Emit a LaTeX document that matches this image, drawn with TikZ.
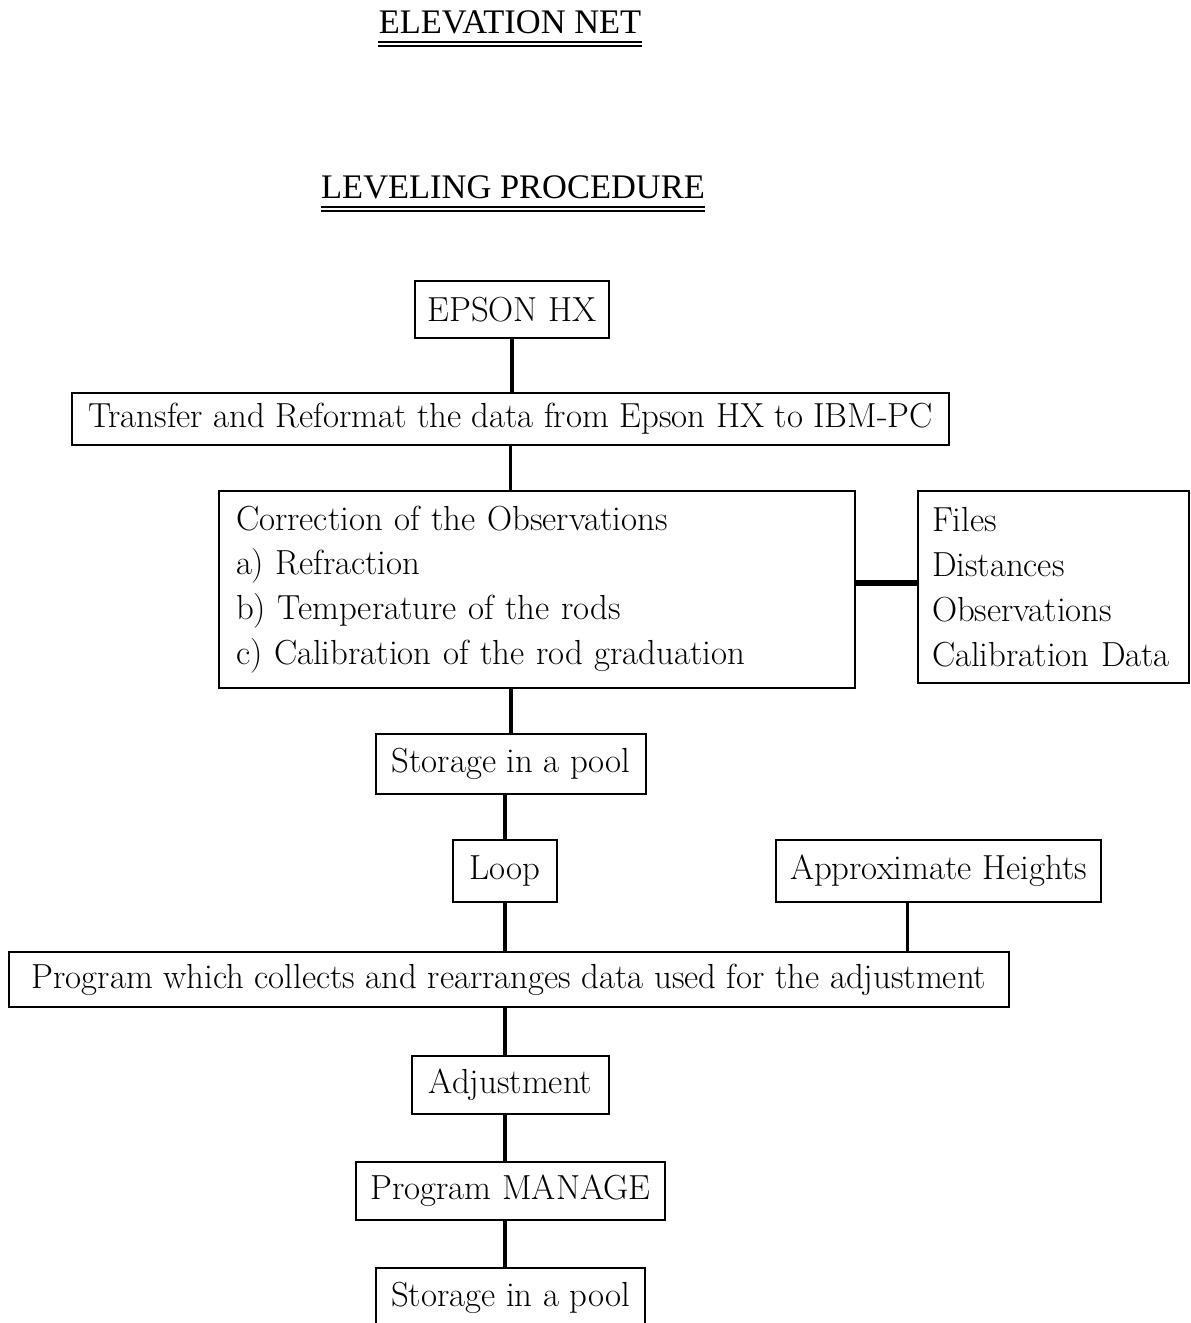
\documentclass[tikz,border=0pt]{standalone}
\usepackage{fontspec}
\newfontfamily\titlefont{Liberation Serif}
\usetikzlibrary{positioning}
\usetikzlibrary{calc}
\tikzset{>=latex}
\tikzstyle{procnode}=[black,draw=black,line width=1pt,shape=rectangle,fill=white,inner sep=0pt,font=\fontsize{19.8}{25.5}\selectfont]
\tikzstyle{listnode}=[procnode,align=left,inner ysep=0pt]
\tikzstyle{titlenode}=[black,anchor=base,inner sep=0pt,font=\titlefont\fontsize{19.6}{23}\selectfont]
\tikzstyle{link}=[line width=1.8pt,color=black]
\tikzstyle{heavylink}=[line width=2.3pt,color=black]
\tikzstyle{barlink}=[line width=3.4pt,color=black]

\begin{document}
\begin{tikzpicture}
	\useasboundingbox (0, 0) rectangle (23.8, -26.46);
	
	% Titles
	\node[titlenode] (elev) at (10.2, -0.66) {ELEVATION NET};
	\node[titlenode] (level) at (10.26, -3.96) {LEVELING PROCEDURE};
	\draw[line width=1.6pt] ($(elev.base west) + (0, -0.18)$) -- ($(elev.base east) + (0, -0.18)$);
	\draw[line width=0.7pt] ($(elev.base west) + (0, -0.26)$) -- ($(elev.base east) + (0, -0.26)$);
	\draw[line width=1.6pt] ($(level.base west) + (0, -0.18)$) -- ($(level.base east) + (0, -0.18)$);
	\draw[line width=0.7pt] ($(level.base west) + (0, -0.26)$) -- ($(level.base east) + (0, -0.26)$);
	
	% Data transfer and correction
	\node[procnode, minimum width=3.88cm, minimum height=1.14cm] (epson) at (10.24, -6.19) {EPSON HX};
	\node[procnode, minimum width=17.54cm, minimum height=1.04cm] (transfer) at (10.21, -8.38) {Transfer and Reformat the data from Epson HX to IBM-PC};
	\node[listnode, text width=12.04cm, inner xsep=0.34cm, minimum height=3.94cm] (corr) at (10.74, -11.79) {Correction of the Observations\\a) Refraction\\b) Temperature of the rods\\c) Calibration of the rod graduation};
	\node[listnode, text width=4.86cm, inner xsep=0.28cm, minimum height=3.84cm] (files) at (21.07, -11.74) {Files\\Distances\\Observations\\Calibration Data};
	\node[procnode, minimum width=5.4cm, minimum height=1.2cm] (pool) at (10.22, -15.28) {Storage in a pool};
	\draw[link] (epson.south) -- (epson.south |- transfer.north);
	\draw[link] (transfer.south) -- (transfer.south |- corr.north);
	\draw[barlink] ($(files.west) + (0, 0.08)$) -- ($(files.west -| corr.east) + (0, 0.08)$);
	\draw[link] (pool.north) -- (pool.north |- corr.south);
	
	% Adjustment
	\node[procnode, minimum width=2.08cm, minimum height=1.24cm] (loop) at (10.10, -17.42) {Loop};
	\node[procnode, minimum width=6.5cm, minimum height=1.24cm] (approx) at (18.77, -17.42) {Approximate Heights};
	\node[procnode, minimum width=20cm, minimum height=1.1cm] (collect) at (10.18, -19.59) {Program which collects and rearranges data used for the adjustment};
	\node[procnode, minimum width=3.94cm, minimum height=1.16cm] (adjust) at (10.21, -21.70) {Adjustment};
	\node[procnode, minimum width=6.18cm, minimum height=1.16cm] (manage) at (10.21, -23.82) {Program MANAGE};
	\node[procnode, minimum width=5.38cm, minimum height=1.2cm] (pool2) at (10.21, -25.96) {Storage in a pool};
	\coordinate (approxfoot) at ($(approx.south west)!0.406!(approx.south east)$);
	\draw[link] (loop.north) -- (loop.north |- pool.south);
	\draw[link] (loop.south) -- (loop.south |- collect.north);
	\draw[link] (approxfoot) -- (approxfoot |- collect.north);
	\draw[heavylink] (collect.south -| loop) -- (adjust.north -| loop);
	\draw[heavylink] (adjust.south -| loop) -- (manage.north -| loop);
	\draw[heavylink] (manage.south -| loop) -- (pool2.north -| loop);
	
\end{tikzpicture}
\end{document}
